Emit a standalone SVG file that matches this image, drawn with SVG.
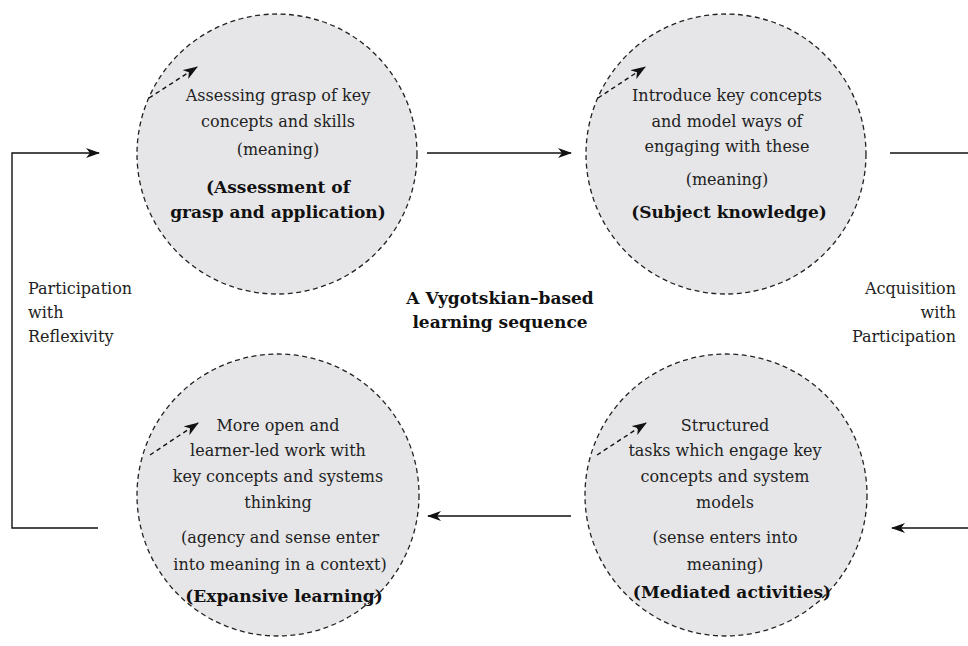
<svg xmlns="http://www.w3.org/2000/svg" width="968" height="646" viewBox="0 0 968 646">
<defs>
<style>
.c{fill:#e6e6e8;stroke:#222;stroke-width:1.3;stroke-dasharray:5 3.5}
text{fill:#222}
.t{font-size:16px;text-anchor:middle}
.b{font-size:17px;font-weight:bold;fill:#111;text-anchor:middle}
.s{font-size:16px}
.ln{fill:none;stroke:#111;stroke-width:1.4}
.d{fill:none;stroke:#111;stroke-width:1.4;stroke-dasharray:4.5 3.5}
</style>
<marker id="ah" viewBox="0 0 14 10" refX="13" refY="5" markerWidth="15" markerHeight="10" markerUnits="userSpaceOnUse" orient="auto">
<path d="M0,0 L14,5 L0,10 L4,5 Z" fill="#111"/>
</marker>
<marker id="ahs" viewBox="0 0 14 10" refX="13" refY="5" markerWidth="15" markerHeight="11" markerUnits="userSpaceOnUse" orient="auto">
<path d="M0,0 L14,5 L0,10 L4,5 Z" fill="#111"/>
</marker>
</defs>
<rect width="968" height="646" fill="#fff"/>

<g font-family="DejaVu Serif, serif">
<g id="node-assessment">
<circle class="c" cx="277" cy="154" r="140"/>
<path class="d" d="M149,98 L197,67" marker-end="url(#ahs)"/>
<text class="t" x="278" y="101">Assessing grasp of key</text>
<text class="t" x="278" y="127">concepts and skills</text>
<text class="t" x="278" y="155">(meaning)</text>
<text class="b" x="278" y="193">(Assessment of</text>
<text class="b" x="278" y="218">grasp and application)</text>
</g>

<g id="node-subject">
<circle class="c" cx="726" cy="154" r="140"/>
<path class="d" d="M598,98 L645,67" marker-end="url(#ahs)"/>
<text class="t" x="727" y="101">Introduce key concepts</text>
<text class="t" x="727" y="127">and model ways of</text>
<text class="t" x="727" y="152">engaging with these</text>
<text class="t" x="727" y="185">(meaning)</text>
<text class="b" x="729" y="218">(Subject knowledge)</text>
</g>

<g id="node-expansive">
<circle class="c" cx="278" cy="495" r="141"/>
<path class="d" d="M150,455 L198,423" marker-end="url(#ahs)"/>
<text class="t" x="278" y="431">More open and</text>
<text class="t" x="278" y="456">learner-led work with</text>
<text class="t" x="278" y="482">key concepts and systems</text>
<text class="t" x="278" y="508">thinking</text>
<text class="t" x="280" y="543">(agency and sense enter</text>
<text class="t" x="280" y="570">into meaning in a context)</text>
<text class="b" x="284" y="602">(Expansive learning)</text>
</g>

<g id="node-mediated">
<circle class="c" cx="726" cy="495" r="141"/>
<path class="d" d="M597,455 L646,423" marker-end="url(#ahs)"/>
<text class="t" x="725" y="431">Structured</text>
<text class="t" x="725" y="456">tasks which engage key</text>
<text class="t" x="725" y="482">concepts and system</text>
<text class="t" x="725" y="508">models</text>
<text class="t" x="725" y="543">(sense enters into</text>
<text class="t" x="725" y="570">meaning)</text>
<text class="b" x="732" y="598">(Mediated activities)</text>
</g>

<g id="title">
<text class="b" x="500" y="304">A Vygotskian–based</text>
<text class="b" x="500" y="328">learning sequence</text>
</g>

<g id="label-left">
<text class="s" x="28" y="294">Participation</text>
<text class="s" x="28" y="318">with</text>
<text class="s" x="28" y="342">Reflexivity</text>
</g>
<g id="label-right">
<text class="s" x="956" y="294" text-anchor="end">Acquisition</text>
<text class="s" x="956" y="318" text-anchor="end">with</text>
<text class="s" x="956" y="342" text-anchor="end">Participation</text>
</g>
</g>

<g id="connectors">
<path class="ln" d="M427,153 L571,153" marker-end="url(#ah)"/>
<path class="ln" d="M890,153 L968,153"/>
<path class="ln" d="M968,528 L892,528" marker-end="url(#ah)"/>
<path class="ln" d="M571,516 L428,516" marker-end="url(#ah)"/>
<path class="ln" d="M98,528 L12,528 L12,153 L99,153" marker-end="url(#ah)"/>
</g>
</svg>
